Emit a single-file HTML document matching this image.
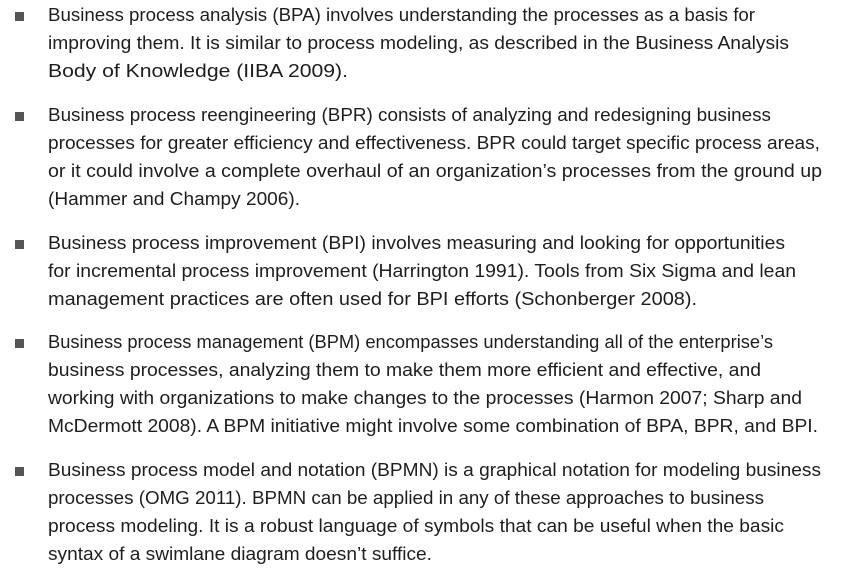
<!DOCTYPE html>
<html><head><meta charset="utf-8"><style>
body{margin:0;width:845px;height:581px;background:#fff;overflow:hidden;font-family:"Liberation Sans",sans-serif;color:#1e1e1e;}
.item{position:absolute;left:0;width:845px;}
.b{position:absolute;left:15px;width:9px;height:9px;background:#555;}
.l{position:absolute;left:48px;white-space:nowrap;font-size:18.8px;line-height:28px;height:28px;transform-origin:0 0;}
</style></head><body>
<div class="item" style="top:1px">
<div class="b" style="top:11px"></div>
<div class="l" data-e="755" style="top:0">Business process analysis (BPA) involves understanding the processes as a basis for</div>
<div class="l" data-e="789" style="top:28px">improving them. It is similar to process modeling, as described in the Business Analysis</div>
<div class="l" data-e="348" style="top:56px">Body of Knowledge (IIBA 2009).</div>
</div>
<div class="item" style="top:101px">
<div class="b" style="top:11px"></div>
<div class="l" data-e="771" style="top:0">Business process reengineering (BPR) consists of analyzing and redesigning business</div>
<div class="l" data-e="820" style="top:28px">processes for greater efficiency and effectiveness. BPR could target specific process areas,</div>
<div class="l" data-e="822" style="top:56px">or it could involve a complete overhaul of an organization’s processes from the ground up</div>
<div class="l" data-e="300" style="top:84px">(Hammer and Champy 2006).</div>
</div>
<div class="item" style="top:229px">
<div class="b" style="top:11px"></div>
<div class="l" data-e="785" style="top:0">Business process improvement (BPI) involves measuring and looking for opportunities</div>
<div class="l" data-e="796" style="top:28px">for incremental process improvement (Harrington 1991). Tools from Six Sigma and lean</div>
<div class="l" data-e="697" style="top:56px">management practices are often used for BPI efforts (Schonberger 2008).</div>
</div>
<div class="item" style="top:328px">
<div class="b" style="top:11px"></div>
<div class="l" data-e="773" style="top:0">Business process management (BPM) encompasses understanding all of the enterprise’s</div>
<div class="l" data-e="761" style="top:28px">business processes, analyzing them to make them more efficient and effective, and</div>
<div class="l" data-e="802" style="top:56px">working with organizations to make changes to the processes (Harmon 2007; Sharp and</div>
<div class="l" data-e="818" style="top:84px">McDermott 2008). A BPM initiative might involve some combination of BPA, BPR, and BPI.</div>
</div>
<div class="item" style="top:456px">
<div class="b" style="top:11px"></div>
<div class="l" data-e="821" style="top:0">Business process model and notation (BPMN) is a graphical notation for modeling business</div>
<div class="l" data-e="764" style="top:28px">processes (OMG 2011). BPMN can be applied in any of these approaches to business</div>
<div class="l" data-e="784" style="top:56px">process modeling. It is a robust language of symbols that can be useful when the basic</div>
<div class="l" data-e="432" style="top:84px">syntax of a swimlane diagram doesn’t suffice.</div>
</div>
<script>
document.querySelectorAll('.l').forEach(function(el){
  var w=el.getBoundingClientRect().width;
  var t=parseFloat(el.getAttribute('data-e'))-48;
  if(w>0) el.style.transform='scaleX('+(t/w)+')';
});
</script>
</body></html>
